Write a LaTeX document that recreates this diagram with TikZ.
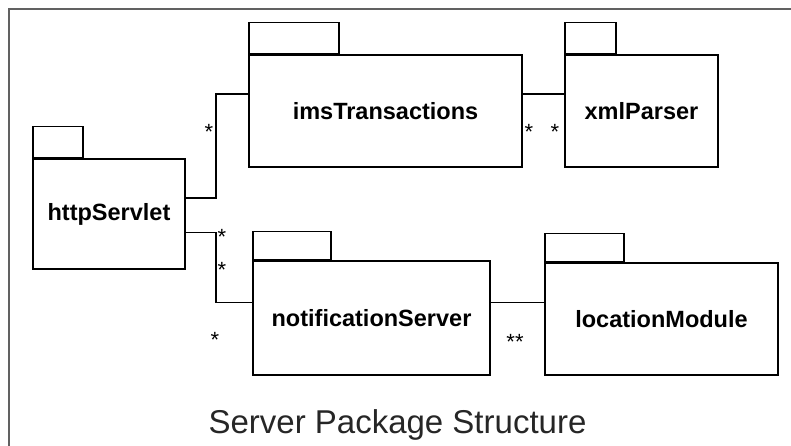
\documentclass[tikz,border=0pt]{standalone}
\usepackage{fontspec}
\setmainfont{Liberation Sans}
\usetikzlibrary{calc}
\tikzset{
  pkgbody/.style={draw=black, line width=1.5pt, rectangle, inner sep=0pt, font=\fontsize{23.5}{25}\selectfont\bfseries},
  pkgtab/.style={draw=black, line width=1.5pt, rectangle, inner sep=0pt, anchor=south west},
  conn/.style={draw=black, line width=1.5pt},
  mult/.style={inner sep=0pt, anchor=base, yshift=-12.5pt, font=\fontsize{22}{24}\selectfont},
  frameline/.style={draw=black!62, line width=2.2pt}
}
\begin{document}
\begin{tikzpicture}[x=1pt,y=-1pt]
\useasboundingbox (0,0) rectangle (791,446);
% frame
\coordinate (fa) at (9,446);
\coordinate (fb) at (9,9);
\coordinate (fc) at (791,9);
\draw[frameline] (fa) -- (fb) -- (fc);
% packages
\node[pkgbody, minimum width=152, minimum height=110] (http) at (109,214) {httpServlet};
\node[pkgtab, minimum width=50, minimum height=31] (httptab) at (http.north west) {};
\node[pkgbody, minimum width=273, minimum height=112] (ims) at (385.5,111) {imsTransactions};
\node[pkgtab, minimum width=90, minimum height=31] (imstab) at (ims.north west) {};
\node[pkgbody, minimum width=153, minimum height=112] (xml) at (641.5,111) {xmlParser};
\node[pkgtab, minimum width=51, minimum height=31] (xmltab) at (xml.north west) {};
\node[pkgbody, minimum width=237, minimum height=114] (notif) at (371.5,318) {notificationServer};
\node[pkgtab, minimum width=78, minimum height=28] (notiftab) at (notif.north west) {};
\node[pkgbody, minimum width=233, minimum height=112] (loc) at (661.5,319) {locationModule};
\node[pkgtab, minimum width=79, minimum height=28] (loctab) at (loc.north west) {};
% connectors
\coordinate (c1) at ($(http.north east)+(0,40)$);
\coordinate (c2) at ($(ims.north west)+(0,40)$);
\draw[conn] (c1) -- ++(30,0) |- (c2);
\coordinate (c3) at ($(http.north east)+(0,74)$);
\coordinate (c4) at ($(notif.north west)+(0,42)$);
\draw[conn] (c3) -- ++(30,0) |- (c4);
\coordinate (c5) at ($(ims.north east)+(0,40)$);
\draw[conn] (c5) -- (c5 -| xml.west);
\coordinate (c6) at ($(notif.north east)+(0,42)$);
\draw[conn] (c6) -- (c6 -| loc.west);
% multiplicities
\node[mult] (m1) at (209,127) {*};
\node[mult] (m2) at (529,127) {*};
\node[mult] (m3) at (555,127) {*};
\node[mult] (m4) at (222,232) {*};
\node[mult] (m5) at (222,265) {*};
\node[mult] (m6) at (215,335) {*};
\node[mult] (m7) at (515,337) {**};
% title
\node[anchor=base, inner sep=0pt, font=\fontsize{33}{36}\selectfont, text=black!85] (title) at (397.5,433) {Server Package Structure};
\end{tikzpicture}
\end{document}
